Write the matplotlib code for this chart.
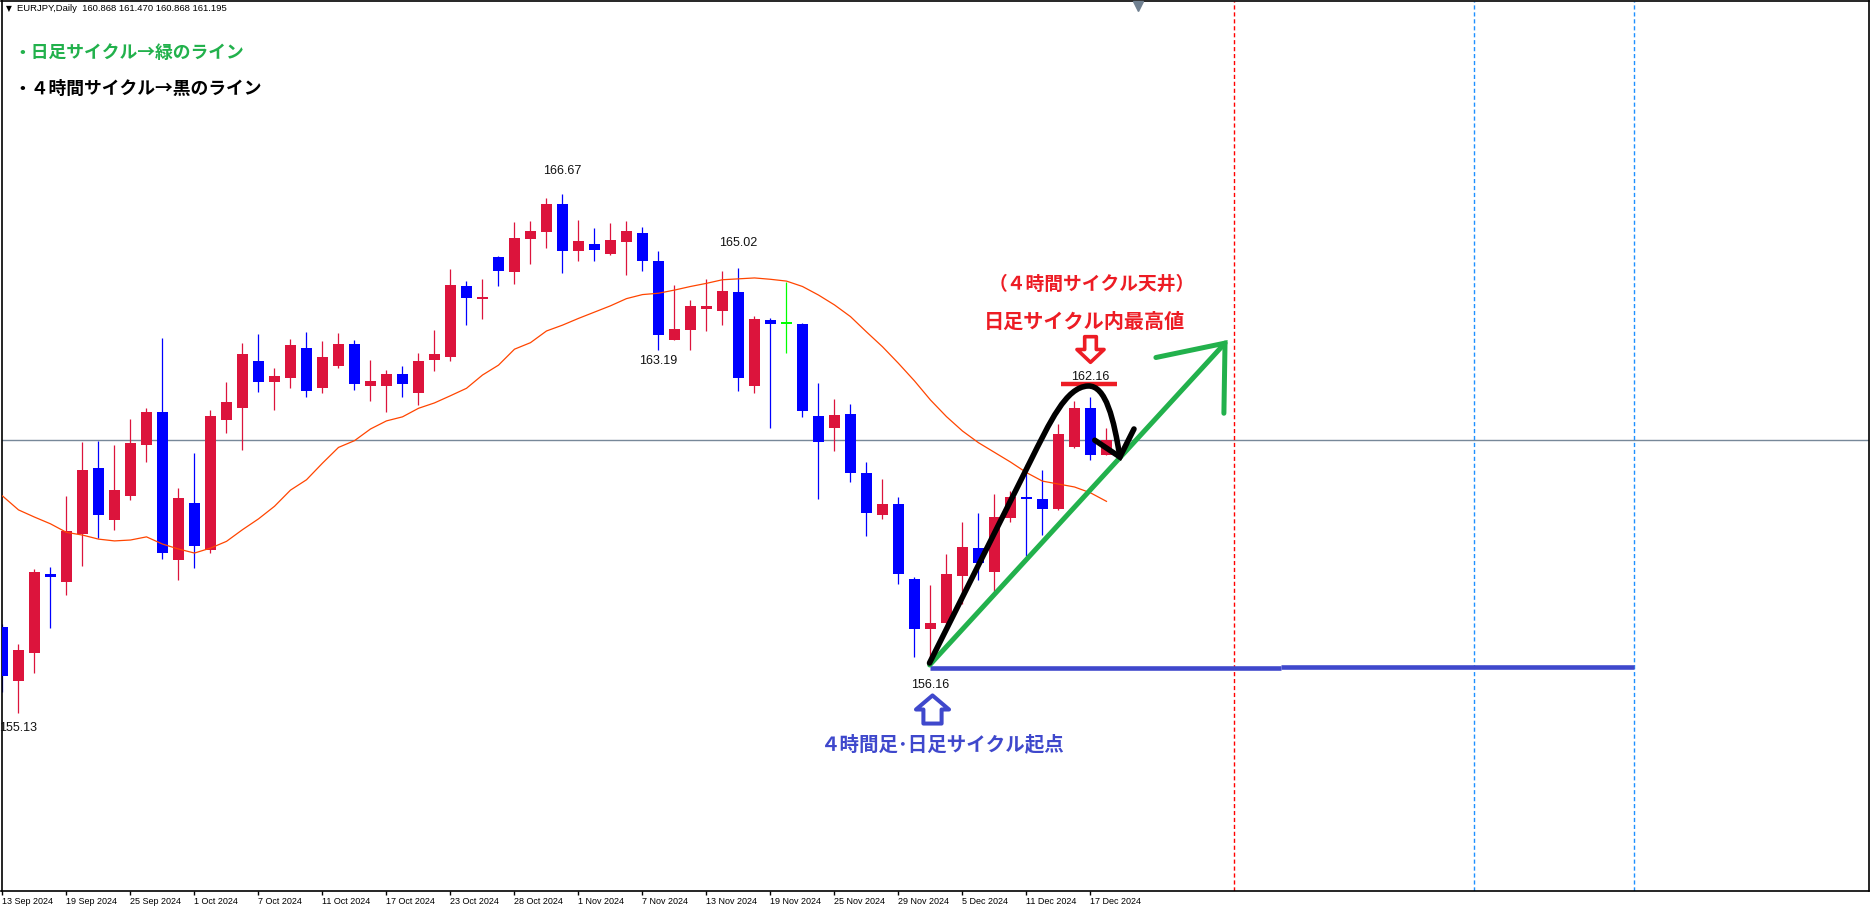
"""EURJPY daily candlestick chart with hand-drawn cycle annotations (MT4 style)."""
import matplotlib
matplotlib.use("Agg")
import matplotlib.pyplot as plt
import numpy as np
from matplotlib.path import Path
from matplotlib.patches import PathPatch

plt.rcParams['font.family'] = ['Liberation Sans', 'DejaVu Sans']
JP_FONT = ['Noto Sans CJK JP', 'DejaVu Sans']

# ---- data ----
SYMBOL = "EURJPY,Daily"
DATE_LABELS = ["13 Sep 2024", "19 Sep 2024", "25 Sep 2024", "1 Oct 2024", "7 Oct 2024",
               "11 Oct 2024", "17 Oct 2024", "23 Oct 2024", "28 Oct 2024", "1 Nov 2024",
               "7 Nov 2024", "13 Nov 2024", "19 Nov 2024", "25 Nov 2024", "29 Nov 2024",
               "5 Dec 2024", "11 Dec 2024", "17 Dec 2024"]

OPEN = [157.04, 155.84, 156.46, 158.22, 158.04, 159.10, 160.57, 159.42, 159.95, 161.09,
        161.82, 158.53, 159.79, 158.75, 161.65, 161.91, 162.95, 162.49, 162.58, 163.24,
        162.36, 162.85, 163.33, 162.40, 162.40, 162.66, 162.25, 162.98, 163.05, 164.62,
        164.34, 165.27, 164.94, 165.67, 165.83, 166.45, 165.41, 165.56, 165.34, 165.61,
        165.80, 165.18, 163.43, 163.65, 164.12, 164.07, 164.49, 162.40, 163.87, 163.77,
        163.78, 161.73, 161.47, 161.77, 160.46, 159.53, 159.77, 158.10, 156.98, 157.13,
        158.16, 158.79, 158.25, 159.45, 159.93, 159.88, 159.65, 161.03, 161.91, 160.868]
HIGH = [157.10, 156.66, 158.33, 158.37, 159.95, 161.15, 161.17, 161.08, 161.66, 161.91,
        163.46, 160.13, 160.91, 161.86, 162.49, 163.35, 163.55, 162.80, 163.44, 163.60,
        163.40, 163.58, 163.42, 162.98, 162.75, 162.84, 163.13, 163.64, 165.00, 164.73,
        164.78, 165.29, 166.05, 166.07, 166.58, 166.67, 166.09, 165.91, 166.02, 166.07,
        165.93, 165.40, 164.64, 164.31, 164.78, 164.96, 165.02, 163.95, 163.91, 164.71,
        163.80, 162.46, 162.11, 162.00, 160.71, 160.33, 159.93, 158.15, 157.98, 158.66,
        159.37, 159.57, 160.00, 160.06, 160.66, 160.53, 161.55, 162.06, 162.16, 161.470]
LOW = [155.60, 155.13, 156.02, 157.02, 157.75, 158.39, 159.01, 159.19, 159.85, 160.71,
       158.55, 158.09, 158.35, 158.69, 161.34, 160.98, 162.27, 161.87, 162.36, 162.16,
       162.25, 162.80, 162.31, 162.07, 161.82, 162.16, 161.98, 162.74, 162.96, 163.76,
       163.89, 164.63, 164.67, 165.12, 165.47, 164.90, 165.18, 165.18, 165.31, 164.87,
       164.96, 163.19, 163.41, 163.20, 163.61, 163.76, 162.29, 162.23, 161.47, 163.12,
       161.71, 159.89, 160.96, 160.27, 159.07, 159.44, 157.99, 156.36, 156.16, 157.05,
       157.54, 158.07, 157.84, 159.36, 158.62, 159.09, 159.63, 161.02, 160.74, 160.868]
CLOSE = [155.94, 156.52, 158.26, 158.15, 159.18, 160.53, 159.53, 160.08, 161.13, 161.82,
         158.69, 159.90, 158.84, 161.73, 162.04, 163.11, 162.49, 162.62, 163.31, 162.29,
         163.04, 163.33, 162.45, 162.51, 162.66, 162.43, 162.95, 163.11, 164.64, 164.36,
         164.38, 164.96, 165.69, 165.85, 166.45, 165.41, 165.62, 165.43, 165.65, 165.85,
         165.18, 163.54, 163.67, 164.18, 164.18, 164.51, 162.58, 163.89, 163.78, 163.77,
         161.83, 161.14, 161.75, 160.47, 159.58, 159.77, 158.22, 156.99, 157.12, 158.22,
         158.82, 158.45, 159.48, 159.93, 159.89, 159.67, 161.33, 161.91, 160.87, 161.195]
MA = [159.95, 159.64, 159.48, 159.33, 159.14, 159.08, 158.99, 158.95, 158.97, 159.04,
      158.88, 158.77, 158.68, 158.79, 158.94, 159.20, 159.44, 159.72, 160.08, 160.31,
      160.68, 161.03, 161.18, 161.44, 161.62, 161.71, 161.90, 162.02, 162.18, 162.345,
      162.64, 162.86, 163.215, 163.36, 163.62, 163.75, 163.90, 164.04, 164.18, 164.34,
      164.43, 164.46, 164.53, 164.61, 164.68, 164.76, 164.78, 164.80, 164.77, 164.73,
      164.61, 164.42, 164.20, 163.94, 163.60, 163.27, 162.90, 162.51, 162.085, 161.715,
      161.395, 161.135, 160.92, 160.705, 160.47, 160.28, 160.215, 160.15, 160.02, 159.83]

HIGH_MARK_BARS = [35, 46, 68]
LOW_MARK_BARS = [1, 41, 58]

# hand-drawn lines (bar index, price)
# 4h cycle: straight rise, then two cubic bezier pieces over the top
CYCLE4H_X = [57.94, 64.22, 65.47, 66.47, 67.84, 68.97, 69.47, 69.84]
CYCLE4H_Y = [156.234, 160.706, 161.595, 162.374, 162.396, 162.419, 161.64, 160.817]
CYCLE4H_HEAD_X = [68.27, 69.84, 70.72]
CYCLE4H_HEAD_Y = [161.19, 160.817, 161.44]
DAILY_X = [57.95, 76.41]
DAILY_Y = [156.19, 163.35]
DAILY_HEAD_X = [72.09, 76.41, 76.34]
DAILY_HEAD_Y = [163.03, 163.35, 161.79]
START_LEVEL_X = [[57.95, 79.9], [79.9, 102.0]]
START_LEVEL_Y = [156.123, 156.156]
TOP_MARK_X = [66.16, 69.67]
TOP_MARK_Y = 162.43
VLINES_RED = [77]
VLINES_BLUE = [92, 102]

UP_COL = '#dc143c'
DOWN_COL = '#0000ff'
DOJI_COL = '#00ff00'
RED = '#ed1c24'
GREEN = '#22b14c'
INDIGO = '#3f48cc'


def block_arrow(direction):
    if direction == 'up':
        v = [(0, 0.425), (0.5, 0), (0.275, 0), (0.275, -0.425), (-0.275, -0.425),
             (-0.275, 0), (-0.5, 0), (0, 0.425)]
    else:
        v = [(0, -0.473), (0.5, 0), (0.215, 0), (0.215, 0.473), (-0.215, 0.473),
             (-0.215, 0), (-0.5, 0), (0, -0.473)]
    codes = [Path.MOVETO] + [Path.LINETO] * 6 + [Path.CLOSEPOLY]
    return Path(v, codes)


def main():
    fig = plt.figure(figsize=(18.7, 9.1), dpi=100)
    ax = fig.add_axes([1.5 / 1870, 19 / 910, 1867.5 / 1870, 890.5 / 910])
    n = len(OPEN)
    x = np.arange(n)
    o, h, l, c = map(np.array, (OPEN, HIGH, LOW, CLOSE))

    ax.set_xlim(-0.0625, 116.66)
    ax.set_ylim(151.162, 170.972)

    # bid line
    ax.axhline(CLOSE[-1], color='#778899', lw=1.0, zorder=1)

    # candles
    cols = np.where(c > o, UP_COL, np.where(c < o, DOWN_COL, DOJI_COL))
    ax.vlines(x, l, h, colors=cols, lw=0.9, zorder=2)
    body_lo = np.minimum(o, c)
    body_h = np.maximum(np.abs(c - o), 0.045)
    ax.bar(x, body_h, bottom=body_lo, width=0.69, color=cols, linewidth=0, zorder=3)

    # moving average
    ax.plot(x, MA, color='#ff4500', lw=0.9, zorder=4)

    # high / low labels
    for b, dy in zip(HIGH_MARK_BARS, [23, 25, 20]):
        ax.annotate(f"{HIGH[b]:.2f}", (b, HIGH[b]), xytext=(0, dy), textcoords='offset pixels',
                    ha='center', va='center', fontsize=9, color='#111111', zorder=6)
    for b, dy in zip(LOW_MARK_BARS, [15, 11, 19]):
        ax.annotate(f"{LOW[b]:.2f}", (b, LOW[b]), xytext=(0, -dy), textcoords='offset pixels',
                    ha='center', va='center', fontsize=9, color='#111111', zorder=6)

    # vertical period separators
    for v in VLINES_RED:
        ax.axvline(v, color='#ff0000', lw=1.0, dashes=(3, 2), zorder=1)
    for v in VLINES_BLUE:
        ax.axvline(v, color='#1e90ff', lw=1.0, dashes=(3, 2), zorder=1)

    # start level (blue)
    for xs, yv in zip(START_LEVEL_X, START_LEVEL_Y):
        ax.plot(xs, [yv, yv], color=INDIGO, lw=3.3, solid_capstyle='butt', zorder=5)

    # daily cycle (green)
    ax.plot(DAILY_X, DAILY_Y, color=GREEN, lw=3.6, solid_capstyle='round', zorder=6)
    ax.plot(DAILY_HEAD_X, DAILY_HEAD_Y, color=GREEN, lw=3.6, solid_capstyle='round',
            solid_joinstyle='miter', zorder=6)

    # 4h cycle (black) as a smooth curve
    codes = [Path.MOVETO, Path.LINETO] + [Path.CURVE4] * 6
    curve = Path(np.column_stack([CYCLE4H_X, CYCLE4H_Y]), codes)
    ax.add_patch(PathPatch(curve, fill=False, edgecolor='black', lw=4.0, capstyle='round',
                           joinstyle='round', zorder=7))
    ax.plot(CYCLE4H_HEAD_X, CYCLE4H_HEAD_Y, color='black', lw=4.0, solid_capstyle='round',
            solid_joinstyle='miter', zorder=7)

    # top marker
    ax.plot(TOP_MARK_X, [TOP_MARK_Y, TOP_MARK_Y], color=RED, lw=3.2, solid_capstyle='butt', zorder=6)

    # hollow block arrows
    ax.plot([68.0], [163.23], marker=block_arrow('down'), markersize=19.5, markerfacecolor='white',
            markeredgecolor=RED, markeredgewidth=2.6, zorder=8)
    ax.plot([58.1], [155.21], marker=block_arrow('up'), markersize=23.8, markerfacecolor='white',
            markeredgecolor=INDIGO, markeredgewidth=2.9, zorder=8)

    # annotation texts
    ax.text(68.1, 164.66, "（４時間サイクル天井）", color=RED, fontsize=13.5, fontweight='bold',
            family=JP_FONT, ha='center', va='center', zorder=9)
    ax.text(67.6, 163.84, "日足サイクル内最高値", color=RED, fontsize=14.5, fontweight='bold',
            family=JP_FONT, ha='center', va='center', zorder=9)
    ax.text(58.8, 154.43, "４時間足･日足サイクル起点", color=INDIGO, fontsize=14, fontweight='bold',
            family=JP_FONT, ha='center', va='center', zorder=9)
    ax.text(0.0064, 0.9416, "・日足サイクル→緑のライン", color=GREEN, fontsize=12.8, fontweight='bold',
            family=JP_FONT, ha='left', va='center', transform=ax.transAxes, zorder=9)
    ax.text(0.0064, 0.9001, "・４時間サイクル→黒のライン", color='black', fontsize=12.8, fontweight='bold',
            family=JP_FONT, ha='left', va='center', transform=ax.transAxes, zorder=9)

    # header
    ax.text(0.0022, 0.9908, "▼", fontsize=5.5, color='black', family=['DejaVu Sans'],
            ha='left', va='center', transform=ax.transAxes)
    header = f"{SYMBOL}  {OPEN[-1]:.3f} {HIGH[-1]:.3f} {LOW[-1]:.3f} {CLOSE[-1]:.3f}"
    ax.text(0.0085, 0.9908, header, fontsize=6.8, color='black', ha='left', va='center',
            transform=ax.transAxes)
    # chart shift marker
    ax.plot([71], [0.994], marker='v', markersize=6.5, color='#708090',
            transform=ax.get_xaxis_transform(), clip_on=False, zorder=9)

    # axes cosmetics
    ax.set_xticks(np.arange(0, 4 * len(DATE_LABELS), 4))
    ax.set_xticklabels(DATE_LABELS)
    for lbl in ax.get_xticklabels():
        lbl.set_ha('left')
    ax.tick_params(axis='x', direction='out', length=3, width=1, pad=1.5, labelsize=6.5,
                   colors='black')
    ax.set_yticks([])
    for sp in ax.spines.values():
        sp.set_color('black')
        sp.set_linewidth(1.2)

    fig.savefig("out.png", dpi=100)
    plt.close(fig)


if __name__ == "__main__":
    main()
